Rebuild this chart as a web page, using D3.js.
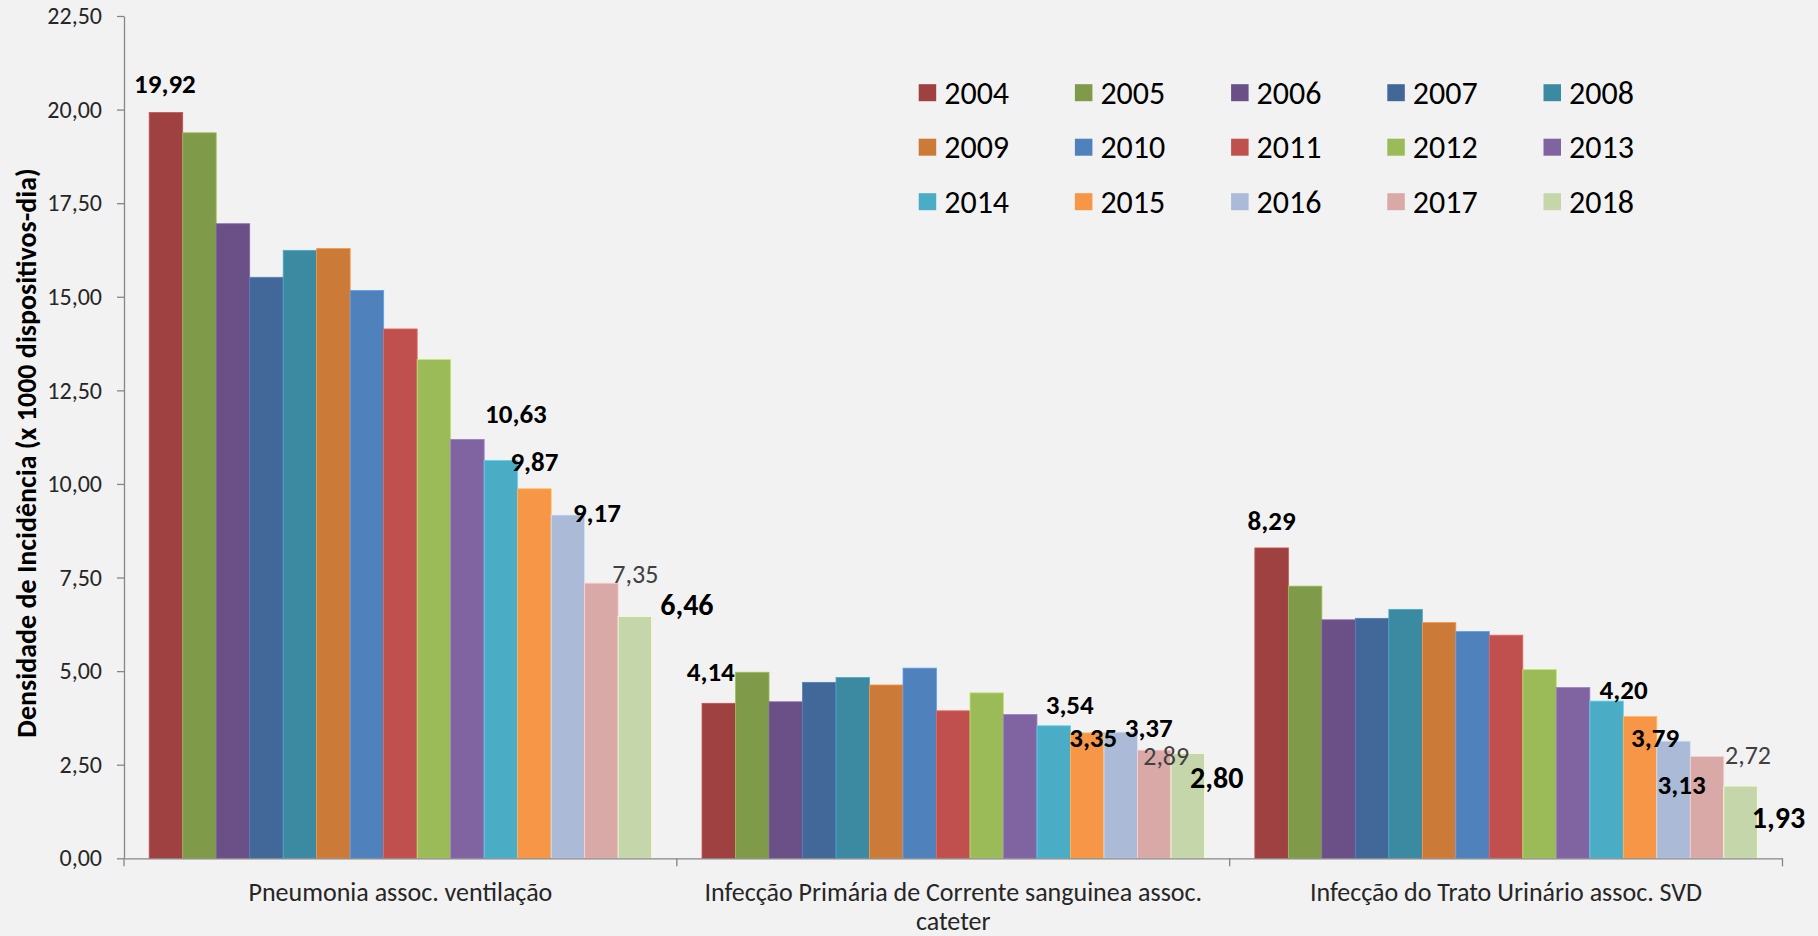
<!DOCTYPE html>
<html>
<head>
<meta charset="utf-8">
<script src="https://cdn.jsdelivr.net/npm/d3@7"></script>
<style>
  html, body { margin: 0; padding: 0; background: #F2F2F2; }
  svg { display: block; }
  text { font-family: Carlito, Calibri, Lato, "Open Sans", sans-serif; }
</style>
</head>
<body>
<svg id="chart" width="1818" height="936"></svg>
<script>
const categories = [
  ["Pneumonia assoc. ventilação"],
  ["Infecção Primária de Corrente sanguinea assoc.", "cateter"],
  ["Infecção do Trato Urinário assoc. SVD"]
];
const categoryKeys = ["PAV", "IPCS", "ITU"];
const years = ["2004","2005","2006","2007","2008","2009","2010","2011","2012","2013","2014","2015","2016","2017","2018"];
const valuesPAV  = [19.92, 19.38, 16.95, 15.52, 16.24, 16.29, 15.17, 14.14, 13.32, 11.19, 10.63, 9.87, 9.17, 7.35, 6.46];
const valuesIPCS = [4.14, 4.97, 4.18, 4.70, 4.83, 4.63, 5.08, 3.94, 4.42, 3.84, 3.54, 3.35, 3.37, 2.89, 2.80];
const valuesITU  = [8.29, 7.27, 6.37, 6.41, 6.65, 6.30, 6.06, 5.96, 5.04, 4.56, 4.20, 3.79, 3.13, 2.72, 1.93];
const yTicks = [0, 2.5, 5, 7.5, 10, 12.5, 15, 17.5, 20, 22.5];
const colors = ["#9E4140","#7F9A48","#6A5086","#416899","#3C8AA2","#CC7A37","#4F81BD","#C0504D","#9BBB59","#8064A2","#4BACC6","#F79646","#AABAD7","#D9A9A8","#C6D6AB"];
const yTitle = "Densidade de Incidência (x 1000 dispositivos-dia)";

// which bars carry a data label (category, year) — placement/style kept separately
const labelledBars = [
  ["PAV","2004"],["PAV","2014"],["PAV","2015"],["PAV","2016"],["PAV","2017"],["PAV","2018"],
  ["IPCS","2004"],["IPCS","2014"],["IPCS","2015"],["IPCS","2016"],["IPCS","2017"],["IPCS","2018"],
  ["ITU","2004"],["ITU","2014"],["ITU","2015"],["ITU","2016"],["ITU","2017"],["ITU","2018"]
];
// label placement (dx from bar centre, dy baseline from bar top) and style
const labelPlacement = [
  {dx:-1, dy:-20, s:"b"},{dx:15, dy:-37, s:"b"},{dx:0, dy:-18, s:"b"},{dx:29, dy:7, s:"b"},{dx:34, dy:0, s:"n"},{dx:52, dy:-1, s:"B"},
  {dx:-8, dy:-22, s:"b"},{dx:16, dy:-12, s:"b"},{dx:6, dy:14, s:"b"},{dx:28, dy:5, s:"b"},{dx:12, dy:15, s:"n"},{dx:29, dy:35, s:"B"},
  {dx:0, dy:-18, s:"b"},{dx:17, dy:-2, s:"b"},{dx:15, dy:31, s:"b"},{dx:8, dy:53, s:"b"},{dx:41, dy:8, s:"n"},{dx:38, dy:42, s:"B"}
];

const seriesByCat = {PAV: valuesPAV, IPCS: valuesIPCS, ITU: valuesITU};
const fmt = v => d3.format(".2f")(v).replace(".", ",");

const svg = d3.select("#chart");
const plot = {left: 124, right: 1782.5, top: 16, bottom: 858.3};

const x0 = d3.scaleBand().domain(categoryKeys).range([plot.left, plot.right]).padding(0);
const bw = x0.bandwidth();
const x1 = d3.scaleBand().domain(years).range([25.2, bw - 25.2]).padding(0);
const y = d3.scaleLinear().domain([0, 22.5]).range([plot.bottom, plot.top]);

// bars
const groups = svg.append("g").selectAll("g")
  .data(categoryKeys).join("g")
  .attr("transform", k => `translate(${x0(k)},0)`);
groups.selectAll("rect")
  .data(k => years.map((yr, i) => ({k, yr, i, v: seriesByCat[k][i]})))
  .join("rect")
  .attr("x", d => x1(d.yr))
  .attr("y", d => y(d.v))
  .attr("width", x1.bandwidth())
  .attr("height", d => y(0) - y(d.v))
  .attr("fill", d => colors[d.i])
  .attr("stroke", d => d3.color(colors[d.i]).brighter(0.6))
  .attr("stroke-width", 0.8);

// y axis
const yAxis = d3.axisLeft(y).tickValues(yTicks).tickSize(7).tickSizeOuter(0).tickFormat(fmt);
const gy = svg.append("g").attr("transform", `translate(${plot.left},0)`).call(yAxis);
gy.select(".domain").attr("stroke", "#868686").attr("stroke-width", 1.3);
gy.selectAll(".tick line").attr("stroke", "#868686").attr("stroke-width", 1.3);
gy.selectAll(".tick text").attr("x", -22).attr("fill", "#262626")
  .style("font-size", "24px").style("font-family", "Carlito, Calibri, Lato, sans-serif");

// x axis
const xAxis = d3.axisBottom(x0).tickSize(0).tickSizeOuter(0).tickFormat("");
const gx = svg.append("g").attr("transform", `translate(0,${plot.bottom})`).call(xAxis);
gx.select(".domain").attr("stroke", "#868686").attr("stroke-width", 1.3);
// category separators (ticks between categories)
const sepPos = categoryKeys.map(k => x0(k)).concat([x0(categoryKeys[categoryKeys.length-1]) + bw]);
gx.selectAll("line.sep").data(sepPos).join("line").attr("class","sep")
  .attr("x1", d => d).attr("x2", d => d).attr("y1", 0).attr("y2", 8)
  .attr("stroke", "#868686").attr("stroke-width", 1.3);
// category labels
const catLabels = svg.append("g").selectAll("text")
  .data(categoryKeys).join("text")
  .attr("x", k => x0(k) + bw / 2)
  .attr("y", 901)
  .attr("text-anchor", "middle")
  .attr("fill", "#262626")
  .style("font-size", "26px");
catLabels.each(function(k, i) {
  d3.select(this).selectAll("tspan").data(categories[i]).join("tspan")
    .attr("x", x0(k) + bw / 2)
    .attr("dy", (d, j) => j === 0 ? 0 : 29)
    .text(d => d);
});

// y title
svg.append("text")
  .attr("transform", `translate(36,453) rotate(-90)`)
  .attr("text-anchor", "middle")
  .attr("fill", "#000")
  .style("font-size", "28px").style("font-weight", "bold")
  .text(yTitle);

// data labels
const styleMap = {
  b: {size: 27, weight: "bold", fill: "#000"},
  B: {size: 30, weight: "bold", fill: "#000"},
  n: {size: 26, weight: "normal", fill: "#404040"}
};
svg.append("g").selectAll("text")
  .data(labelledBars.map(([k, yr], i) => {
    const idx = years.indexOf(yr);
    return {k, yr, v: seriesByCat[k][idx], p: labelPlacement[i]};
  }))
  .join("text")
  .attr("x", d => x0(d.k) + x1(d.yr) + x1.bandwidth() / 2 + d.p.dx)
  .attr("y", d => y(d.v) + d.p.dy)
  .attr("text-anchor", "middle")
  .attr("fill", d => styleMap[d.p.s].fill)
  .style("font-size", d => styleMap[d.p.s].size + "px")
  .style("font-weight", d => styleMap[d.p.s].weight)
  .text(d => fmt(d.v));

// legend
const legend = svg.append("g").selectAll("g")
  .data(years).join("g")
  .attr("transform", (d, i) => `translate(${918.7 + (i % 5) * 156.2},${92.7 + Math.floor(i / 5) * 54.5})`);
legend.append("rect")
  .attr("x", 0).attr("y", -8.5).attr("width", 17.5).attr("height", 17)
  .attr("fill", (d, i) => colors[i]);
legend.append("text")
  .attr("x", 25.5).attr("y", 0).attr("dy", "0.35em")
  .attr("fill", "#000")
  .style("font-size", "32px")
  .text(d => d);
</script>
</body>
</html>
